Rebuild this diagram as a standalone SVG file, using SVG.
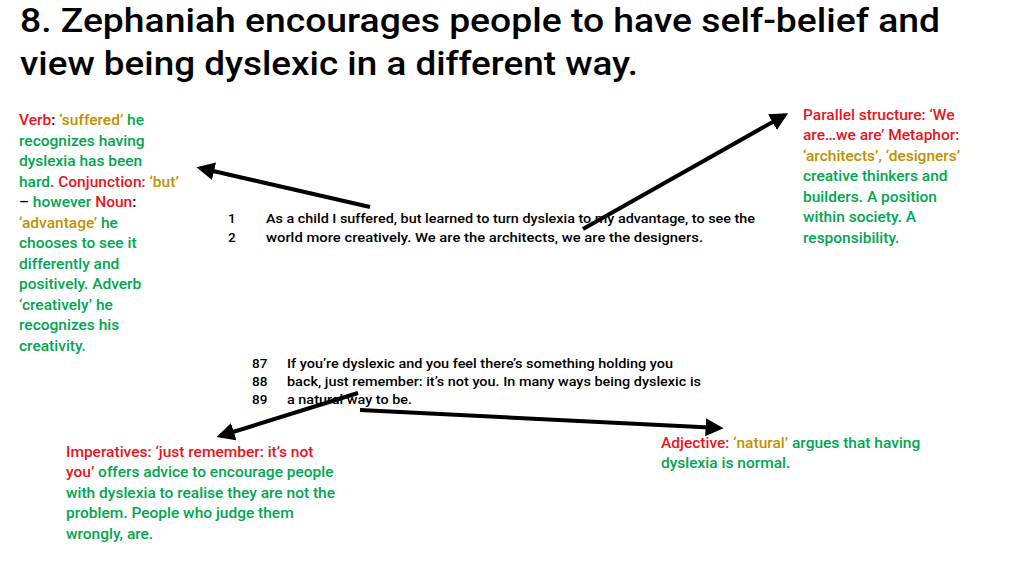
<svg xmlns="http://www.w3.org/2000/svg" width="1024" height="576" viewBox="0 0 1024 576">
<style>
text{font-family:Roboto,"Liberation Sans",sans-serif}
.a{font-size:15.5px;font-weight:500}
.r{fill:#E8141C}.g{fill:#00A650}.y{fill:#BF9000}.k{fill:#000}
.q{font-size:13.5px;fill:#000;font-weight:500}
.c line{stroke:#000;stroke-width:4;marker-end:url(#m)}
</style>
<defs><marker id="m" viewBox="0 0 10 10" refX="8" refY="5" markerWidth="4.5" markerHeight="4.5" orient="auto"><path d="M0,0L10,5L0,10z" fill="#000"/></marker></defs>
<rect width="1024" height="576" fill="#fff"/>
<g id="title"><text x="20" y="32" font-size="33" font-weight="500" fill="#000" textLength="920" lengthAdjust="spacingAndGlyphs">8. Zephaniah encourages people to have self-belief and</text><text x="20" y="75" font-size="33" font-weight="500" fill="#000" textLength="618" lengthAdjust="spacingAndGlyphs">view being dyslexic in a different way.</text></g>
<g id="left" class="a">
<text x="19" y="125"><tspan class="r">Verb</tspan><tspan class="k">: </tspan><tspan class="y">‘suffered’</tspan><tspan class="g"> he</tspan></text>
<text x="19" y="146" class="g">recognizes having</text>
<text x="19" y="166" class="g">dyslexia has been</text>
<text x="19" y="187"><tspan class="g">hard</tspan><tspan class="r">. Conjunction: </tspan><tspan class="y">‘but’</tspan></text>
<text x="19" y="207"><tspan class="k">– </tspan><tspan class="g">however </tspan><tspan class="r">Noun</tspan><tspan class="k">:</tspan></text>
<text x="19" y="228"><tspan class="y">‘advantage’</tspan><tspan class="g"> he</tspan></text>
<text x="19" y="248" class="g">chooses to see it</text>
<text x="19" y="269" class="g">differently and</text>
<text x="19" y="289" class="g">positively. Adverb</text>
<text x="19" y="310" class="g">‘creatively’ he</text>
<text x="19" y="330" class="g">recognizes his</text>
<text x="19" y="351" class="g">creativity.</text>
</g>
<g id="right" class="a">
<text x="803" y="120" class="r">Parallel structure: ‘We</text>
<text x="803" y="140" class="r">are…we are’ Metaphor:</text>
<text x="803" y="161" class="y">‘architects’, ‘designers’</text>
<text x="803" y="181" class="g">creative thinkers and</text>
<text x="803" y="202" class="g">builders. A position</text>
<text x="803" y="222" class="g">within society. A</text>
<text x="803" y="243" class="g">responsibility.</text>
</g>
<g id="quote1">
<text x="228" y="223" class="q">1</text><text x="228" y="242" class="q">2</text>
<text x="266" y="223" class="q" textLength="489" lengthAdjust="spacingAndGlyphs">As a child I suffered, but learned to turn dyslexia to my advantage, to see the</text>
<text x="266" y="242" class="q" textLength="437" lengthAdjust="spacingAndGlyphs">world more creatively.  We are the architects, we are the designers.</text>
</g>
<g id="quote2">
<text x="252" y="368" class="q">87</text><text x="252" y="386" class="q">88</text><text x="252" y="404" class="q">89</text>
<text x="287" y="368" class="q" textLength="386" lengthAdjust="spacingAndGlyphs">If you’re dyslexic and you feel there’s something holding you</text>
<text x="287" y="386" class="q" textLength="414" lengthAdjust="spacingAndGlyphs">back, just remember: it’s not you.  In many ways being dyslexic is</text>
<text x="287" y="404" class="q" textLength="125" lengthAdjust="spacingAndGlyphs">a natural way to be.</text>
</g>
<g id="imper" class="a">
<text x="66" y="457" class="r">Imperatives: ‘just remember: it’s not</text>
<text x="66" y="477"><tspan class="r">you’</tspan><tspan class="g"> offers advice to encourage people</tspan></text>
<text x="66" y="498" class="g">with dyslexia to realise they are not the</text>
<text x="66" y="518" class="g">problem.  People who judge them</text>
<text x="66" y="539" class="g">wrongly, are.</text>
</g>
<g id="adj" class="a">
<text x="661" y="448"><tspan class="r">Adjective: </tspan><tspan class="y">‘natural’</tspan><tspan class="g"> argues that having</tspan></text>
<text x="661" y="468" class="g">dyslexia is normal.</text>
</g>
<g class="c" id="connectors">
<line x1="370" y1="207" x2="200" y2="168"/>
<line x1="583" y1="229" x2="785" y2="115"/>
<line x1="358" y1="393" x2="220" y2="436"/>
<line x1="360" y1="410" x2="720" y2="428"/>
</g>
</svg>
